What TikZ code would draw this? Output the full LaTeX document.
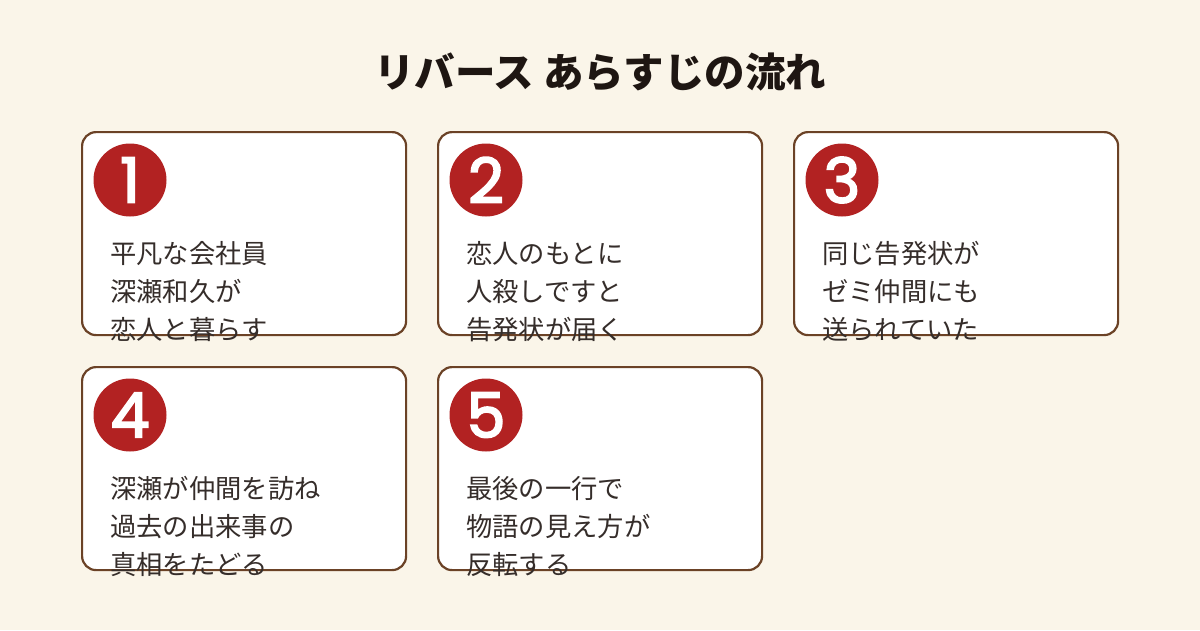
\documentclass[tikz,border=0pt]{standalone}
\usepackage{fontspec}
\newfontfamily\jpfont{Noto Sans CJK JP}
\newfontfamily\numfont[FakeBold=3]{Poppins}
\definecolor{pagecream}{RGB}{250, 245, 233}
\definecolor{cardbrown}{RGB}{107, 66, 38}
\definecolor{numred}{RGB}{178, 34, 34}
\definecolor{inkdark}{RGB}{30, 22, 18}
\usetikzlibrary{positioning}

\begin{document}
\begin{tikzpicture}[x=1pt, y=-1pt,
    card/.style={draw=cardbrown, line width=2.2pt, fill=white, rounded corners=14pt, minimum width=324pt, minimum height=203pt, inner sep=0pt, anchor=north west},
    numdot/.style={circle, fill=numred, minimum size=73pt, inner sep=0pt, text=white, font=\numfont\fontsize{62}{62}\selectfont},
    storytext/.style={anchor=north west, inner sep=0pt, align=left, text=inkdark!90, font=\jpfont\fontsize{26.3}{38}\selectfont}]
  \useasboundingbox[fill=pagecream] (0,0) rectangle (1200,630);
  \node[text=inkdark, font=\jpfont\bfseries\fontsize{40.5}{40.5}\selectfont] (title) at (600,72) {リバース あらすじの流れ};
  \foreach \n/\cx/\cy/\story in {
      1/81/131/{平凡な会社員\\深瀬和久が\\恋人と暮らす},
      2/437/131/{恋人のもとに\\人殺しですと\\告発状が届く},
      3/793/131/{同じ告発状が\\ゼミ仲間にも\\送られていた},
      4/81/366/{深瀬が仲間を訪ね\\過去の出来事の\\真相をたどる},
      5/437/366/{最後の一行で\\物語の見え方が\\反転する}} {
    \node[card] (card\n) at (\cx,\cy) {};
    \node[numdot] (num\n) at ([xshift=49pt, yshift=-49pt]card\n.north west) {\n};
    \node[storytext] (story\n) at ([xshift=29pt, yshift=-110pt]card\n.north west) {\story};
  }
\end{tikzpicture}
\end{document}
